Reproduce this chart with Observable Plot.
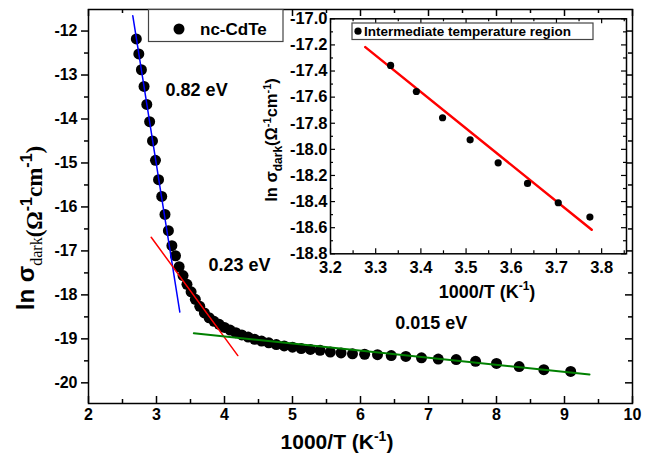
<!DOCTYPE html>
<html><head><meta charset="utf-8">
<script src="https://cdn.jsdelivr.net/npm/d3@7"></script>
<script src="https://cdn.jsdelivr.net/npm/@observablehq/plot@0.6"></script>
<style>
body{margin:0;background:#fff;}
#wrap{position:relative;width:656px;height:467px;overflow:hidden;background:#fff;}
#wrap svg{position:absolute;left:0;top:0;}
</style></head><body><div id="wrap"></div>
<script>
// ---- main data: 1000/T (K^-1) vs ln sigma_dark ----
const mainX = [2.703,2.740,2.778,2.817,2.857,2.899,2.941,2.985,3.030,3.077,3.125,3.175,3.226,3.279,3.333,3.390,3.448,3.509,3.571,3.636,3.704,3.774,3.846,3.922,4.000,4.082,4.167,4.255,4.348,4.444,4.545,4.651,4.762,4.878,5.000,5.128,5.263,5.405,5.556,5.714,5.882,6.061,6.250,6.452,6.667,6.897,7.143,7.407,7.692,8.000,8.333,8.696,9.091];
const mainY = [-12.18,-12.52,-12.88,-13.26,-13.67,-14.06,-14.50,-14.94,-15.38,-15.76,-16.17,-16.54,-16.88,-17.11,-17.36,-17.56,-17.76,-17.93,-18.10,-18.26,-18.41,-18.52,-18.60,-18.67,-18.74,-18.80,-18.86,-18.91,-18.96,-19.01,-19.05,-19.09,-19.13,-19.16,-19.19,-19.22,-19.24,-19.26,-19.30,-19.32,-19.34,-19.35,-19.36,-19.38,-19.40,-19.43,-19.46,-19.47,-19.51,-19.56,-19.63,-19.70,-19.74];
// fit lines (endpoints, data units)
const blueFitX = [2.651, 3.343];
const blueFitY = [-11.65, -18.39];
const redFitX = [2.922, 4.196];
const redFitY = [-16.69, -19.38];
const greenFitX = [3.549, 9.368];
const greenFitY = [-18.87, -19.81];
// activation energy annotations
const annoText = ["0.82 eV", "0.23 eV", "0.015 eV"];
const annoX = [3.59, 4.22, 7.04];
const annoY = [-13.35, -17.33, -18.65];
// main ticks
const xMajor = [2,3,4,5,6,7,8,9,10];
const xMinor = [2.5,3.5,4.5,5.5,6.5,7.5,8.5,9.5];
const yMajor = [-12,-13,-14,-15,-16,-17,-18,-19,-20];
const yMinor = [-12.5,-13.5,-14.5,-15.5,-16.5,-17.5,-18.5,-19.5];

// ---- inset data ----
const insetX = [3.333,3.390,3.448,3.509,3.571,3.636,3.704,3.774];
const insetY = [-17.357,-17.557,-17.758,-17.927,-18.103,-18.261,-18.409,-18.519];
const insetFitX = [3.277, 3.778];
const insetFitY = [-17.217, -18.616];
const inXMajor = [3.2,3.3,3.4,3.5,3.6,3.7,3.8];
const inXMinor = [3.25,3.35,3.45,3.55,3.65,3.75,3.85];
const inYMajor = [-17.0,-17.2,-17.4,-17.6,-17.8,-18.0,-18.2,-18.4,-18.6,-18.8];
const inYMinor = [-17.1,-17.3,-17.5,-17.7,-17.9,-18.1,-18.3,-18.5,-18.7];

const W = 656, H = 467;
const FONT = "Arial, 'Liberation Sans', sans-serif";
const SERIF = "'Times New Roman', 'Liberation Serif', serif";
const pts = (xs, ys) => xs.map((x, i) => ({x, y: ys[i]}));

// ---------------- main plot ----------------
const mL = 88, mR = 24, mT = 9, mB = 64;
const fw = W - mL - mR, fh = H - mT - mB;
const main = Plot.plot({
  width: W, height: H, marginLeft: mL, marginRight: mR, marginTop: mT, marginBottom: mB,
  style: {background: "transparent", fontFamily: FONT, color: "black"},
  x: {domain: [2, 10]},
  y: {domain: [-20.47, -11.51]},
  marks: [
    Plot.axisX(xMajor, {anchor: "bottom", tickSize: 0, tickPadding: 5, tickFormat: d => String(d), label: null, fontSize: 16, fontWeight: "bold"}),
    Plot.axisY(yMajor, {anchor: "left", tickSize: 0, tickPadding: 11, tickFormat: d => String(d), label: null, fontSize: 16, fontWeight: "bold"}),
    Plot.tickX(xMajor, {x: d => d, insetTop: fh - 7, stroke: "black", strokeWidth: 1.5}),
    Plot.tickX(xMinor, {x: d => d, insetTop: fh - 4, stroke: "black", strokeWidth: 1.5}),
    Plot.tickX(xMajor, {x: d => d, insetBottom: fh - 7, stroke: "black", strokeWidth: 1.5}),
    Plot.tickX(xMinor, {x: d => d, insetBottom: fh - 4, stroke: "black", strokeWidth: 1.5}),
    Plot.tickY(yMajor, {y: d => d, insetLeft: -7, insetRight: fw, stroke: "black", strokeWidth: 1.5}),
    Plot.tickY(yMinor, {y: d => d, insetLeft: -4, insetRight: fw, stroke: "black", strokeWidth: 1.5}),
    Plot.tickY(yMajor, {y: d => d, insetLeft: fw - 7, stroke: "black", strokeWidth: 1.5}),
    Plot.tickY(yMinor, {y: d => d, insetLeft: fw - 4, stroke: "black", strokeWidth: 1.5}),
    Plot.frame({stroke: "black", strokeWidth: 1.5}),
    Plot.dot(pts(mainX, mainY), {x: "x", y: "y", r: 5.5, fill: "black", stroke: null}),
    Plot.line(pts(blueFitX, blueFitY), {x: "x", y: "y", stroke: "#0000ff", strokeWidth: 1.5}),
    Plot.line(pts(redFitX, redFitY), {x: "x", y: "y", stroke: "#ff0000", strokeWidth: 1.5}),
    Plot.line(pts(greenFitX, greenFitY), {x: "x", y: "y", stroke: "#008000", strokeWidth: 2}),
    Plot.text(annoText.map((t, i) => ({t, x: annoX[i], y: annoY[i]})), {x: "x", y: "y", text: "t", fontSize: 18, fontWeight: "bold", fill: "black", fontFamily: FONT})
  ]
});
document.getElementById("wrap").appendChild(main);

// ---------------- inset plot ----------------
const iL = 330, iR = W - 626, iT = 18.3, iB = H - 253.3;
const iw = W - iL - iR, ih = H - iT - iB;
const inset = Plot.plot({
  width: W, height: H, marginLeft: iL, marginRight: iR, marginTop: iT, marginBottom: iB,
  style: {background: "transparent", fontFamily: FONT, color: "black"},
  x: {domain: [3.2, 3.855]},
  y: {domain: [-18.8, -17.0]},
  marks: [
    Plot.frame({fill: "white", stroke: null}),
    Plot.axisX(inXMajor, {anchor: "bottom", tickSize: 0, tickPadding: 7, tickFormat: d => d.toFixed(1), label: null, fontSize: 16.5, fontWeight: "bold"}),
    Plot.axisY(inYMajor, {anchor: "left", tickSize: 0, tickPadding: 3, tickFormat: d => d.toFixed(1), label: null, fontSize: 16.5, fontWeight: "bold"}),
    Plot.tickX(inXMajor, {x: d => d, insetTop: ih - 5, stroke: "black", strokeWidth: 1.2}),
    Plot.tickX(inXMinor, {x: d => d, insetTop: ih - 3, stroke: "black", strokeWidth: 1.2}),
    Plot.tickX(inXMajor, {x: d => d, insetBottom: ih - 5, stroke: "black", strokeWidth: 1.2}),
    Plot.tickX(inXMinor, {x: d => d, insetBottom: ih - 3, stroke: "black", strokeWidth: 1.2}),
    Plot.tickY(inYMajor, {y: d => d, insetRight: iw - 5, stroke: "black", strokeWidth: 1.2}),
    Plot.tickY(inYMinor, {y: d => d, insetRight: iw - 3, stroke: "black", strokeWidth: 1.2}),
    Plot.tickY(inYMajor, {y: d => d, insetLeft: iw - 5, stroke: "black", strokeWidth: 1.2}),
    Plot.tickY(inYMinor, {y: d => d, insetLeft: iw - 3, stroke: "black", strokeWidth: 1.2}),
    Plot.frame({stroke: "black", strokeWidth: 1.5}),
    Plot.line(pts(insetFitX, insetFitY), {x: "x", y: "y", stroke: "#ff0000", strokeWidth: 2.5}),
    Plot.dot(pts(insetX, insetY), {x: "x", y: "y", r: 3.6, fill: "black", stroke: null})
  ]
});
document.getElementById("wrap").appendChild(inset);

// ---------------- labels & legends ----------------
const sm = d3.select(main);
// main x label
const xl = sm.append("text").attr("x", 337).attr("y", 449).attr("text-anchor", "middle")
  .attr("font-family", FONT).attr("font-weight", "bold").attr("font-size", 21).attr("fill", "black");
xl.append("tspan").text("1000/T (K");
xl.append("tspan").attr("font-size", 14).attr("dy", -8).text("-1");
xl.append("tspan").attr("dy", 8).text(")");
// main y label
const yl = sm.append("text").attr("transform", "translate(34,228) rotate(-90)").attr("text-anchor", "middle")
  .attr("font-family", FONT).attr("font-weight", "bold").attr("font-size", 24).attr("fill", "black");
yl.append("tspan").text("ln σ");
yl.append("tspan").attr("font-family", SERIF).attr("font-weight", "normal").attr("font-size", 16).attr("dy", 8).text("dark");
yl.append("tspan").attr("font-family", SERIF).attr("font-size", 23).text("(Ω");
yl.append("tspan").attr("font-size", 16).attr("dy", -10).text("-1");
yl.append("tspan").attr("font-family", SERIF).attr("font-size", 23).attr("dy", 10).text("cm");
yl.append("tspan").attr("font-size", 16).attr("dy", -10).text("-1");
yl.append("tspan").attr("font-family", SERIF).attr("font-size", 23).attr("dy", 10).text(")");
// main legend
sm.append("rect").attr("x", 148.5).attr("y", 9.5).attr("width", 134.5).attr("height", 32).attr("fill", "white").attr("stroke", "#444").attr("stroke-width", 1.2);
sm.append("circle").attr("cx", 179).attr("cy", 29).attr("r", 5.5).attr("fill", "black");
sm.append("text").attr("x", 200).attr("y", 29).attr("dy", "0.35em").attr("text-anchor", "start").attr("font-family", FONT).attr("font-weight", "bold").attr("font-size", 17).attr("fill", "black").text("nc-CdTe");

const si = d3.select(inset);
// inset x label
const ixl = si.append("text").attr("x", 487).attr("y", 298).attr("text-anchor", "middle")
  .attr("font-family", FONT).attr("font-weight", "bold").attr("font-size", 18).attr("fill", "black");
ixl.append("tspan").text("1000/T (K");
ixl.append("tspan").attr("font-size", 12).attr("dy", -8).text("-1");
ixl.append("tspan").attr("dy", 8).text(")");
// inset y label
const iyl = si.append("text").attr("transform", "translate(277,140) rotate(-90)").attr("text-anchor", "middle")
  .attr("font-family", FONT).attr("font-weight", "bold").attr("font-size", 16.5).attr("fill", "black");
iyl.append("tspan").text("ln σ");
iyl.append("tspan").attr("font-size", 12).attr("dy", 5).text("dark");
iyl.append("tspan").attr("dy", -5).text("(Ω");
iyl.append("tspan").attr("font-size", 11).attr("dy", -6).text("-1");
iyl.append("tspan").attr("dy", 6).text("cm");
iyl.append("tspan").attr("font-size", 11).attr("dy", -6).text("-1");
iyl.append("tspan").attr("dy", 6).text(")");
// inset legend
si.append("rect").attr("x", 352).attr("y", 23).attr("width", 241).attr("height", 16.5).attr("fill", "white").attr("stroke", "#444").attr("stroke-width", 1.2);
si.append("circle").attr("cx", 358).attr("cy", 31.2).attr("r", 3.6).attr("fill", "black");
si.append("text").attr("x", 364).attr("y", 31.2).attr("dy", "0.35em").attr("text-anchor", "start").attr("font-family", FONT).attr("font-weight", "bold").attr("font-size", 13.5).attr("fill", "black").text("Intermediate temperature region");
</script></body></html>
